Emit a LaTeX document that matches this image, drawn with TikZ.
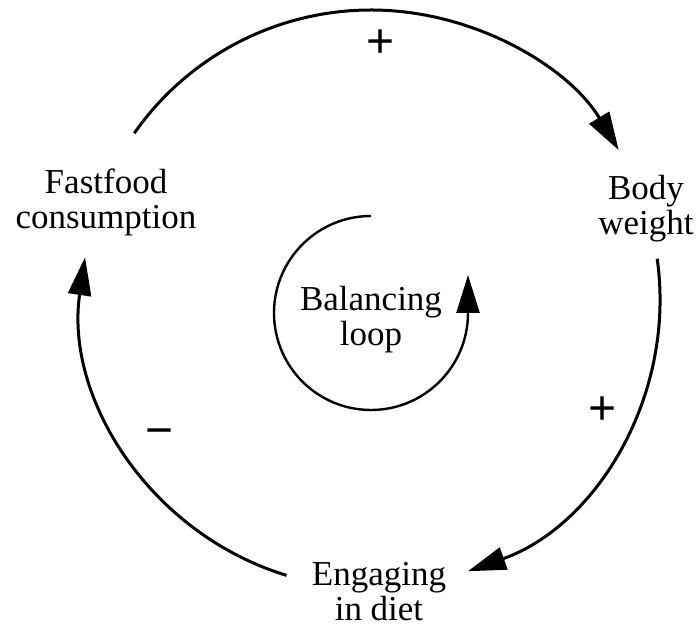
\documentclass[tikz,border=0pt]{standalone}
\usepackage{fontspec}
\setmainfont{Liberation Serif}
\newfontfamily\signfont{Liberation Sans}
\usetikzlibrary{arrows.meta}
\begin{document}
\begin{tikzpicture}[x=1bp,y=1bp,
  labeltext/.style={font=\fontsize{35bp}{35bp}\selectfont, align=center, inner sep=0pt},
  signtext/.style={font=\signfont\fontsize{48bp}{48bp}\selectfont, inner sep=0pt},
  link/.style={line width=3bp, -{Triangle[length=38bp,width=23bp]}},
  loopline/.style={line width=2.4bp, -{Triangle[length=38bp,width=23bp]}}]
\useasboundingbox (0,0) rectangle (697,628);
% centres of the outer causal loop and the inner loop marker
\coordinate (O) at (371,329);
\coordinate (I) at (371,315);
% variables
\node[labeltext] (fast) at (106,426) {Fastfood\\consumption};
\node[labeltext] (body) at (646,419) {Body\\weight};
\node[labeltext] (diet) at (379,36) {Engaging\\in diet};
\node[labeltext] (bal) at (371,308) {Balancing\\loop};
% causal links
\draw[link] ([shift={(145:289)}]O) arc[start angle=145, end angle=31, radius=289];
\draw[link] ([shift={(8:289)}]O) arc[start angle=8, end angle=-70.4, radius=289];
\draw[link] ([shift={(253:289)}]O) arc[start angle=253, end angle=171.7, radius=289];
% polarity signs
\node[signtext] (s1) at (381,584) {+};
\node[signtext] (s2) at (603,217) {+};
\node[signtext] (s3) at (160,190) {−};
% loop marker
\draw[loopline] ([shift={(90:97)}]I) arc[start angle=90, end angle=360, radius=97] -- ++(0,38);
\end{tikzpicture}
\end{document}
